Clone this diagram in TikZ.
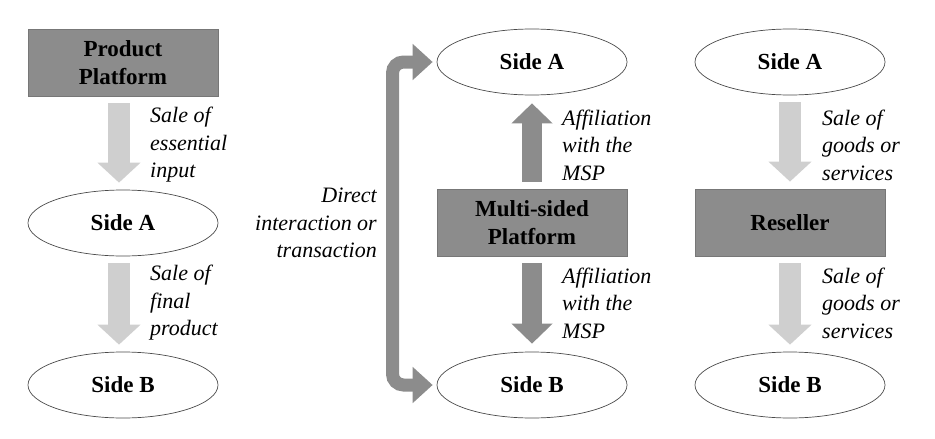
\documentclass[tikz,border=0pt]{standalone}
\usepackage{fontspec}
\setmainfont{Liberation Serif}
\newfontfamily\tnr{Liberation Serif}
\usetikzlibrary{shapes.geometric,arrows.meta}
\definecolor{boxgray}{HTML}{8C8C8C}
\definecolor{boxedge}{HTML}{777777}
\definecolor{lightarrow}{HTML}{CFCFCF}
\definecolor{darkarrow}{HTML}{8C8C8C}
\definecolor{elledge}{HTML}{4A4A4A}
\begin{document}
\begin{tikzpicture}[x=1pt,y=-1pt,
  every node/.style={font=\tnr\fontsize{22}{27.5}\selectfont, inner sep=0pt},
  platbox/.style={draw=boxedge, line width=0.8pt, fill=boxgray, minimum width=190pt, minimum height=67pt, align=center, font=\tnr\fontsize{23}{27.5}\selectfont\bfseries},
  sidenode/.style={ellipse, draw=elledge, line width=0.7pt, fill=white, minimum width=190pt, minimum height=66pt, font=\tnr\fontsize{23}{27.5}\selectfont\bfseries},
  lbl/.style={anchor=west, align=left, font=\tnr\fontsize{22}{27.5}\selectfont\itshape},
  lightblock/.style={draw=lightarrow, line width=22pt, -{Triangle[width=42pt,length=20pt]}, shorten <=7pt, shorten >=7pt},
  darkblock/.style={draw=darkarrow, line width=20pt, -{Triangle[width=40pt,length=20pt]}, shorten <=7pt, shorten >=8pt},
  bentarrow/.style={draw=darkarrow, line width=13pt, rounded corners=11pt, {Triangle[width=35pt,length=20pt]}-{Triangle[width=35pt,length=20pt]}}
]
\useasboundingbox (0,0) rectangle (935,439);

% left column
\node[platbox] (pp) at (123,62.5) {Product\\Platform};
\node[sidenode] (la) at (123,223) {Side A};
\node[sidenode] (lb) at (123,385) {Side B};
\draw[lightblock] (pp.south -| 119,0) -- (la.north -| 119,0);
\draw[lightblock] (la.south -| 119,0) -- (lb.north -| 119,0);
\node[lbl] (l1) at (150,145) {Sale of\\essential\\input};
\node[lbl] (l2) at (150,303) {Sale of\\final\\product};

% middle column
\node[sidenode] (ma) at (532,62) {Side A};
\node[platbox] (msp) at (532,222.5) {Multi-sided\\Platform};
\node[sidenode] (mb) at (532,385) {Side B};
\draw[darkblock] (msp.north) -- (ma.south);
\draw[darkblock] (msp.south) -- (mb.north);
\node[lbl] (m1) at (562,145) {Affiliation\\with the\\MSP};
\node[lbl] (m2) at (562,303) {Affiliation\\with the\\MSP};
\coordinate (bt) at (392.5,62);
\coordinate (bb) at (392.5,385);
\draw[bentarrow] ([xshift=-4pt]mb.west) -- (bb) -- (bt) -- ([xshift=-4pt]ma.west);
\node[anchor=east, align=right, font=\tnr\fontsize{22}{27.5}\selectfont\itshape] (dt) at (377,223) {Direct\\interaction or\\transaction};

% right column
\node[sidenode] (ra) at (790,62) {Side A};
\node[platbox] (rs) at (790,222.5) {Reseller};
\node[sidenode] (rb) at (790,385) {Side B};
\draw[lightblock] (ra.south) -- (rs.north);
\draw[lightblock] (rs.south) -- (rb.north);
\node[lbl] (r1) at (822,145) {Sale of\\goods or\\services};
\node[lbl] (r2) at (822,303) {Sale of\\goods or\\services};
\end{tikzpicture}
\end{document}
